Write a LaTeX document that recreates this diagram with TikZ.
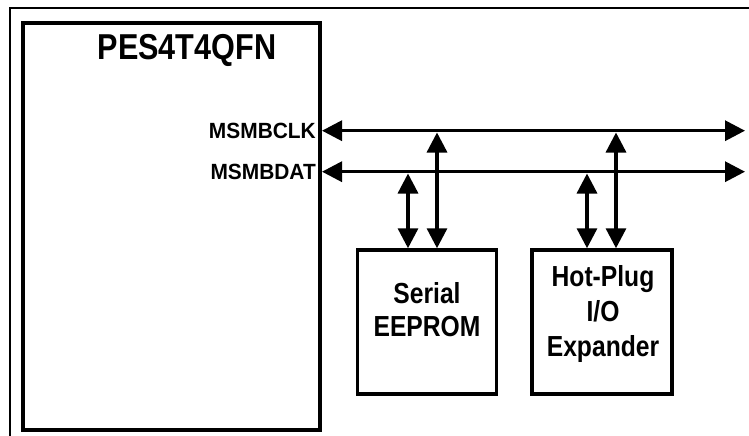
\documentclass[tikz,border=0pt]{standalone}
\usepackage{fontspec}
\setmainfont{Liberation Sans}[FakeStretch=0.85]
\newfontfamily\lblfont{Liberation Sans}[FakeStretch=0.95]
\usetikzlibrary{arrows.meta}
\begin{document}
\begin{tikzpicture}[x=1pt,y=-1pt,
  frame/.style={line width=2pt},
  chipbox/.style={draw,line width=4pt,inner sep=0pt},
  devbox/.style={draw,line width=3.5pt,inner sep=0pt,minimum width=139pt,minimum height=144pt},
  bus/.style={line width=3.3pt,{Triangle[length=20pt,width=20pt]}-{Triangle[length=20pt,width=20pt]}},
  lbl/.style={inner sep=0pt,font=\lblfont\bfseries\fontsize{22}{24}\selectfont},
  ttl/.style={inner sep=0pt,font=\bfseries\fontsize{36}{40}\selectfont},
  devtxt/.style={inner sep=0pt,align=center,font=\bfseries\fontsize{29}{33}\selectfont}]
\useasboundingbox (0,0) rectangle (749,436);
\draw[frame] (10,436) -- (10,8) -- (749,8);
\node[chipbox,minimum width=297pt,minimum height=406.5pt] (chip) at (171.5,226.75) {};
\node[ttl] (title) at (187,50) {PES4T4QFN};
\node[lbl,anchor=east] (clklbl) at (316,130.7) {MSMBCLK};
\node[lbl,anchor=east] (datlbl) at (316,171.7) {MSMBDAT};
\node[devbox] (ee) at (427,322) {};
\node[devbox,minimum width=140pt] (hp) at (602,322) {};
\node[devtxt] (eetxt) at (427,310) {Serial\\EEPROM};
\node[devtxt,font=\bfseries\fontsize{29}{35}\selectfont] (hptxt) at (603,314) {Hot-Plug\\I/O\\Expander};
\coordinate (clkR) at (745,130.7);
\coordinate (datR) at (745,171.7);
\draw[bus] (chip.east |- clkR) -- (clkR);
\draw[bus] (chip.east |- datR) -- (datR);
\coordinate (eeD) at (408,173.5);
\coordinate (eeC) at (437,132.5);
\coordinate (hpD) at (587,173.5);
\coordinate (hpC) at (616,132.5);
\draw[bus] (eeD) -- (eeD |- ee.north);
\draw[bus] (eeC) -- (eeC |- ee.north);
\draw[bus] (hpD) -- (hpD |- hp.north);
\draw[bus] (hpC) -- (hpC |- hp.north);
\end{tikzpicture}
\end{document}
